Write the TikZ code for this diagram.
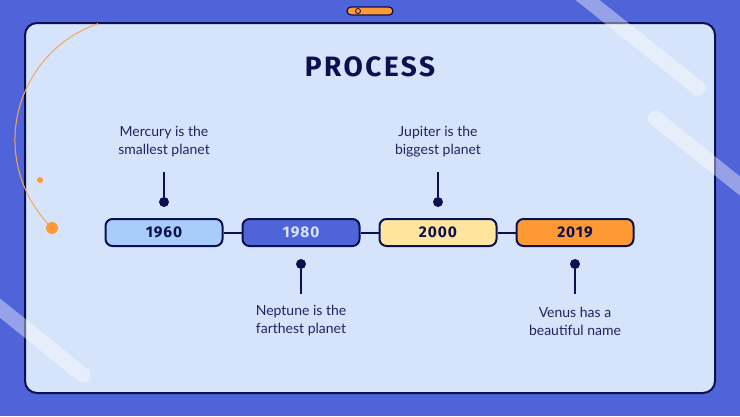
\documentclass[tikz,border=0pt]{standalone}
\usepackage{fontspec}
\setmainfont{Lato}
\newfontfamily\headfont[LetterSpace=9]{Fira Sans}
\newfontfamily\yearfont[LetterSpace=6]{Fira Sans}
\definecolor{slideblue}{HTML}{4F64D9}
\definecolor{panelblue}{HTML}{D6E4FB}
\definecolor{navy}{HTML}{0C1050}
\definecolor{notenavy}{HTML}{1E2460}
\definecolor{orangeyr}{HTML}{FF9933}
\definecolor{arcorange}{HTML}{F5A55C}
\definecolor{lightblue}{HTML}{A9CDFA}
\definecolor{cream}{HTML}{FFE59E}

\begin{document}
\begin{tikzpicture}[x=1pt,y=-1pt,
  yearbox/.style={draw=navy,line width=2pt,rounded corners=7pt,minimum width=117pt,
    minimum height=27pt,inner sep=0pt,font=\yearfont\bfseries\fontsize{15.5}{15.5}\selectfont},
  dot/.style={circle,fill=navy,minimum size=10pt,inner sep=0pt},
  stem/.style={navy,line width=2pt},
  note/.style={align=center,text=notenavy,font=\fontsize{14}{18}\selectfont},
  stripe/.style={white,opacity=0.4,line width=15pt,line cap=round}]
  \useasboundingbox (0,0) rectangle (740,416);
  \fill[slideblue] (0,0) rectangle (740,416);
  % tab on top
  \node[draw=navy,fill=orangeyr,line width=1.2pt,rounded corners=4pt,minimum width=46pt,
    minimum height=8pt,inner sep=0pt] (tab) at (370,11) {};
  \draw[navy,line width=0.8pt] (358,11) circle (2.5);
  % panel
  \draw[fill=panelblue,draw=navy,line width=2pt,rounded corners=12pt] (25,23) rectangle (715,393);
  \draw[arcorange,line width=1pt] (138,140) ++(251:123) arc (251:134:123);
  \fill[orangeyr] (52,228) circle (6);
  \fill[orangeyr] (40,180) circle (3);
  \draw[stripe] (575,-10)--(698,88);
  \draw[stripe] (655,118)--(770,210);
  \draw[stripe] (-20,292)--(83,375);
  \node[font=\headfont\bfseries\fontsize{28}{28}\selectfont,text=navy] (title) at (370,67) {PROCESS};
  % timeline
  \foreach \yr/\x/\col/\tc in {1960/164/lightblue/navy,1980/301/slideblue/panelblue,
      2000/438/cream/navy,2019/575/orangeyr/navy}{
    \node[yearbox,fill=\col,text=\tc] (y\yr) at (\x,232.5) {\yr};
  }
  \draw[stem] (y1960)--(y1980);
  \draw[stem] (y1980)--(y2000);
  \draw[stem] (y2000)--(y2019);
  % notes above
  \node[dot] (d1960) at (164,202) {};
  \coordinate (t1960) at (164,172);
  \draw[stem] (t1960)--(d1960);
  \node[note] (n1960) at (164,142) {Mercury is the\\smallest planet};
  \node[dot] (d2000) at (438,202) {};
  \coordinate (t2000) at (438,172);
  \draw[stem] (t2000)--(d2000);
  \node[note] (n2000) at (438,142) {Jupiter is the\\biggest planet};
  % notes below
  \node[dot] (d1980) at (301,264) {};
  \coordinate (b1980) at (301,294);
  \draw[stem] (d1980)--(b1980);
  \node[note] (n1980) at (301,321) {Neptune is the\\farthest planet};
  \node[dot] (d2019) at (575,264) {};
  \coordinate (b2019) at (575,294);
  \draw[stem] (d2019)--(b2019);
  \node[note] (n2019) at (575,321) {Venus has a\\beautiful name};
\end{tikzpicture}
\end{document}
